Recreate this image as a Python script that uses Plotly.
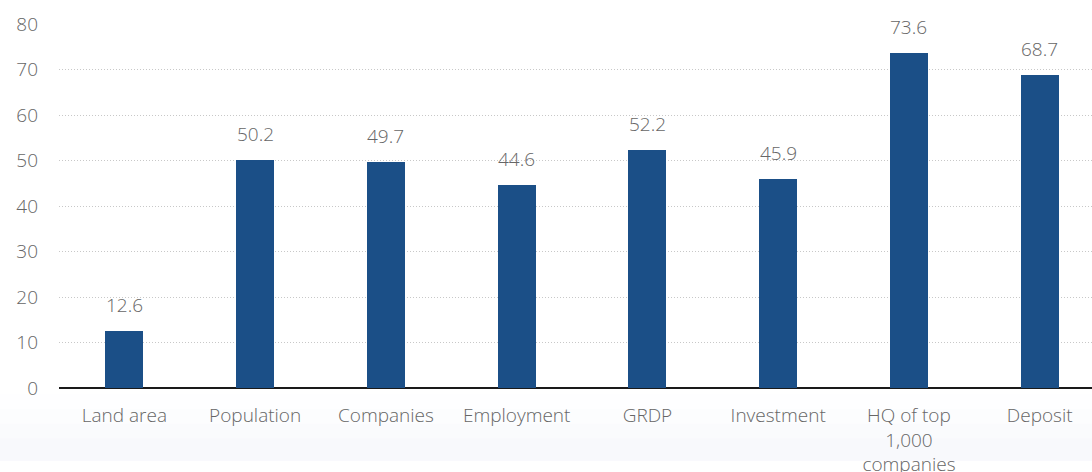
import plotly.graph_objects as go

categories = ["Land area", "Population", "Companies", "Employment", "GRDP",
              "Investment", "HQ of top<br>1,000<br>companies", "Deposit"]
shares = [12.6, 50.2, 49.7, 44.6, 52.2, 45.9, 73.6, 68.7]
y_ticks = [0, 10, 20, 30, 40, 50, 60, 70, 80]

bar_color = "#1b4f87"
text_color = "#666666"
font_family = "Open Sans"

idx = list(range(len(categories)))

fig = go.Figure()
fig.add_trace(go.Bar(
    x=idx, y=shares, width=0.29,
    marker=dict(color=bar_color, line=dict(width=0)),
    hoverinfo="skip",
))

for i, v in zip(idx, shares):
    fig.add_annotation(
        x=i, y=v, text=f"{v:.1f}", showarrow=False,
        yanchor="bottom", yshift=11,
        font=dict(family=font_family, size=19, color=text_color, weight=300),
    )

# faint fade at the foot of the page
fade = ["#fefeff", "#fcfdfe", "#fafbfd", "#f8f9fc"]
for k, c in enumerate(fade):
    y0 = 0.16 - k * 0.04
    fig.add_shape(type="rect", xref="paper", yref="paper",
                  x0=-0.06, x1=1.0, y0=-0.2, y1=y0 - 0.178,
                  fillcolor=c, line=dict(width=0), layer="below")

fig.update_layout(
    width=1092, height=472,
    margin=dict(l=59, r=0, t=24, b=84),
    paper_bgcolor="white", plot_bgcolor="rgba(0,0,0,0)",
    showlegend=False,
    bargap=0,
    font=dict(family=font_family, color=text_color),
    xaxis=dict(
        tickmode="array", tickvals=idx, ticktext=categories,
        range=[-0.5, 7.4], showgrid=False, zeroline=False,
        showline=False, ticks="", ticklen=0, ticklabelstandoff=14,
        automargin=False,
        tickfont=dict(family=font_family, size=19, color=text_color, weight=300),
    ),
    yaxis=dict(
        range=[0, 80], tickvals=y_ticks, showgrid=True,
        gridcolor="#c8c8c8", griddash="1px,2px", gridwidth=1,
        zeroline=True, zerolinecolor="#1a1a1a", zerolinewidth=2,
        showline=False, ticks="", ticklabelstandoff=20,
        automargin=False,
        tickfont=dict(family=font_family, size=19, color=text_color, weight=300),
    ),
)

fig.write_html("out.html")
